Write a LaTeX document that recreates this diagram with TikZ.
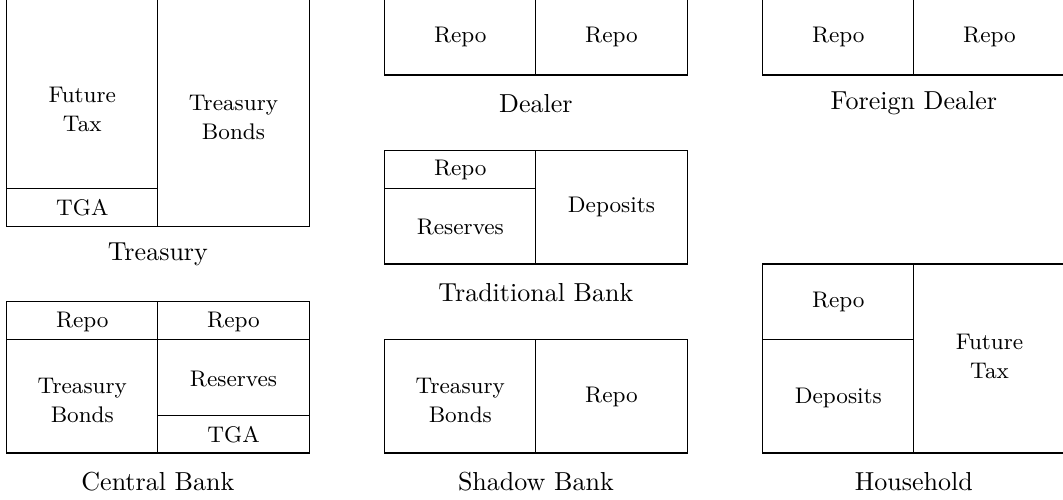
\documentclass[tikz,border=0pt]{standalone}
\usepackage{fontspec}
\begin{document}
\begin{tikzpicture}[x=14.89pt,y=14.89pt,
  edge/.style={draw=black, line width=0.45pt},
  lbl/.style={font=\fontsize{8.9}{11.4}\selectfont, align=center, inner sep=0pt},
  ttl/.style={font=\fontsize{10.25}{12.3}\selectfont, inner sep=0pt}]
\useasboundingbox (-0.177,-1.243) rectangle (27.944,11.984);
\clip (-0.177,-1.243) rectangle (27.944,11.984);
% Treasury
\draw[edge] (0,12.5) -- (0,6) -- (8,6) -- (8,12.5);
\draw[edge] (4,6) -- (4,12.5);
\draw[edge] (0,7) -- (4,7);
\node[lbl] (tft) at (2,9.1) {Future\\Tax};
\node[lbl] (ttb) at (6,8.88) {Treasury\\Bonds};
\node[lbl] (ttga) at (2,6.5) {TGA};
\node[ttl] (treasury) at (4,5.25) {Treasury};
% Dealer
\draw[edge] (10,12.5) -- (10,10) -- (18,10) -- (18,12.5);
\draw[edge] (14,10) -- (14,12.5);
\node[lbl] (drepo1) at (12,11) {Repo};
\node[lbl] (drepo2) at (16,11) {Repo};
\node[ttl] (dealer) at (14,9.25) {Dealer};
% Foreign Dealer
\draw[edge] (20,12.5) -- (20,10) -- (28.5,10);
\draw[edge] (24,10) -- (24,12.5);
\node[lbl] (frepo1) at (22,11) {Repo};
\node[lbl] (frepo2) at (26,11) {Repo};
\node[ttl] (fdealer) at (24,9.25) {Foreign Dealer};
% Traditional Bank
\draw[edge] (10,5) rectangle (18,8);
\draw[edge] (14,5) -- (14,8);
\draw[edge] (10,7) -- (14,7);
\node[lbl] (brepo) at (12,7.5) {Repo};
\node[lbl] (bres) at (12,5.97) {Reserves};
\node[lbl] (bdep) at (16,6.5) {Deposits};
\node[ttl] (tbank) at (14,4.25) {Traditional Bank};
% Central Bank
\draw[edge] (0,0) rectangle (8,4);
\draw[edge] (4,0) -- (4,4);
\draw[edge] (0,3) -- (8,3);
\draw[edge] (4,1) -- (8,1);
\node[lbl] (crepo1) at (2,3.47) {Repo};
\node[lbl] (crepo2) at (6,3.47) {Repo};
\node[lbl] (ctb) at (2,1.4) {Treasury\\Bonds};
\node[lbl] (cres) at (6,1.95) {Reserves};
\node[lbl] (ctga) at (6,0.48) {TGA};
\node[ttl] (cbank) at (4,-0.75) {Central Bank};
% Shadow Bank
\draw[edge] (10,0) rectangle (18,3);
\draw[edge] (14,0) -- (14,3);
\node[lbl] (stb) at (12,1.4) {Treasury\\Bonds};
\node[lbl] (srepo) at (16,1.47) {Repo};
\node[ttl] (sbank) at (14,-0.75) {Shadow Bank};
% Household
\draw[edge] (28.5,5) -- (20,5) -- (20,0) -- (28.5,0);
\draw[edge] (24,0) -- (24,5);
\draw[edge] (20,3) -- (24,3);
\node[lbl] (hrepo) at (22,4) {Repo};
\node[lbl] (hdep) at (22,1.45) {Deposits};
\node[lbl] (hft) at (26,2.55) {Future\\Tax};
\node[ttl] (household) at (24,-0.75) {Household};
\end{tikzpicture}
\end{document}
